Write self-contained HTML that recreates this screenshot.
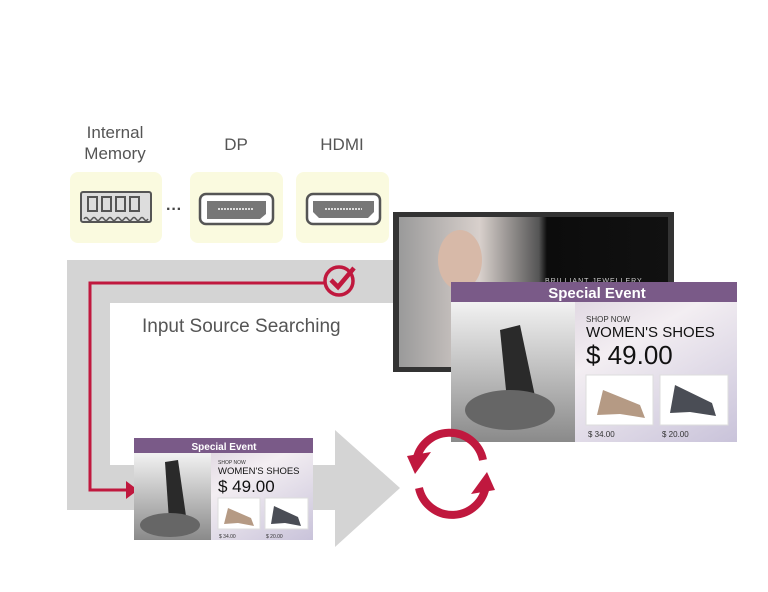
<!DOCTYPE html>
<html><head><meta charset="utf-8"><style>
body{margin:0;background:#fff;}
svg text{font-family:"Liberation Sans",sans-serif;}
</style></head><body>
<svg width="768" height="587" viewBox="0 0 768 587" xmlns="http://www.w3.org/2000/svg">
<defs>
<linearGradient id="sp" x1="0" y1="0" x2="1" y2="1"><stop offset="0" stop-color="#cbbfd0"/><stop offset="0.5" stop-color="#f3eef2"/><stop offset="1" stop-color="#c9c3da"/></linearGradient>
<linearGradient id="ph" x1="0" y1="0" x2="0" y2="1"><stop offset="0" stop-color="#f2f2f2"/><stop offset="1" stop-color="#8a8a8a"/></linearGradient>
<linearGradient id="mon" x1="0" y1="0" x2="1" y2="0"><stop offset="0" stop-color="#9a9a9a"/><stop offset="0.3" stop-color="#d8d0cc"/><stop offset="0.52" stop-color="#555"/><stop offset="0.55" stop-color="#0c0c0c"/><stop offset="1" stop-color="#111"/></linearGradient>
</defs>
<text x="115" y="138" font-size="17" fill="#555" text-anchor="middle">Internal</text>
<text x="115" y="159" font-size="17" fill="#555" text-anchor="middle">Memory</text>
<text x="236" y="150" font-size="17" fill="#555" text-anchor="middle">DP</text>
<text x="342" y="150" font-size="17" fill="#555" text-anchor="middle">HDMI</text>
<rect x="70" y="172" width="92" height="71" rx="8" fill="#fafadf"/>
<rect x="190" y="172" width="93" height="71" rx="8" fill="#fafadf"/>
<rect x="296" y="172" width="93" height="71" rx="8" fill="#fafadf"/>
<rect x="81" y="192" width="70" height="30" rx="2" fill="#ddd" stroke="#555" stroke-width="2"/>
<path d="M84 219 q2 -3 4 0 t4 0 t4 0 t4 0 t4 0 t4 0 t4 0 t4 0 t4 0 t4 0 t4 0 t4 0 t4 0 t4 0 t4 0 t4 0" fill="none" stroke="#555" stroke-width="1.5"/>
<g fill="none" stroke="#555" stroke-width="2"><rect x="88" y="197" width="9" height="14"/><rect x="102" y="197" width="9" height="14"/><rect x="116" y="197" width="9" height="14"/><rect x="130" y="197" width="9" height="14"/></g>
<text x="174" y="214" font-size="16" fill="#444" text-anchor="middle" font-weight="bold">···</text>
<rect x="200" y="194" width="73" height="30" rx="6" fill="#fff" stroke="#555" stroke-width="2.5"/>
<path d="M207 201 H266 V214 L260 219 H207 Z" fill="#777"/>
<line x1="218" y1="209" x2="254" y2="209" stroke="#fff" stroke-width="1.5" stroke-dasharray="2 1"/>
<rect x="307" y="194" width="73" height="30" rx="6" fill="#fff" stroke="#555" stroke-width="2.5"/>
<path d="M313 201 H374 V212 L368 218 H319 L313 212 Z" fill="#777"/>
<line x1="325" y1="209" x2="362" y2="209" stroke="#fff" stroke-width="1.5" stroke-dasharray="2 1"/>
<!-- gray band -->
<path d="M67 260 H395 V303 H110 V465 H335 V430 L400 488 L335 547 V510 H67 Z" fill="#d4d4d4"/>
<text x="142" y="332" font-size="19" fill="#555">Input Source Searching</text>
<!-- red line -->
<path d="M325 283 H90 V490 H128" fill="none" stroke="#c0183e" stroke-width="3"/>
<path d="M126 481 L138 490 L126 499 Z" fill="#c0183e"/>
<circle cx="339" cy="281" r="14" fill="none" stroke="#c0183e" stroke-width="3.5"/>
<path d="M331 280 L338 287 L354 268" fill="none" stroke="#c0183e" stroke-width="4.5"/>
<!-- monitor -->
<rect x="393" y="212" width="281" height="160" fill="#333"/>
<rect x="399" y="217" width="269" height="150" fill="url(#mon)"/>
<ellipse cx="460" cy="260" rx="22" ry="30" fill="#d7b9a8"/>
<text x="545" y="283" font-size="7" fill="#ccc" letter-spacing="1">BRILLIANT JEWELLERY</text>
<!-- big card -->
<rect x="451" y="282" width="286" height="160" fill="url(#sp)"/>
<rect x="451" y="282" width="286" height="20" fill="#7a5a88"/>
<text x="597" y="298" font-size="15" font-weight="bold" fill="#fff" text-anchor="middle">Special Event</text>
<rect x="451" y="302" width="124" height="140" fill="url(#ph)"/>
<path d="M500 330 L520 325 L540 420 L510 430 Z" fill="#2a2a2a"/>
<ellipse cx="510" cy="410" rx="45" ry="20" fill="#666"/>
<text x="586" y="322" font-size="8" fill="#333">SHOP NOW</text>
<text x="586" y="337" font-size="15" fill="#111">WOMEN'S SHOES</text>
<text x="586" y="364" font-size="26" fill="#111">$ 49.00</text>
<rect x="586" y="375" width="67" height="50" fill="#fff" stroke="#ddd"/>
<rect x="660" y="375" width="68" height="50" fill="#fff" stroke="#ddd"/>
<path d="M597 415 L603 390 L640 405 L645 418 L620 414 Z" fill="#b59a84"/>
<path d="M670 413 L675 385 L712 403 L716 416 L690 412 Z" fill="#4a4d55"/>
<text x="588" y="437" font-size="8" fill="#333">$ 34.00</text>
<text x="662" y="437" font-size="8" fill="#333">$ 20.00</text>
<!-- small card -->
<rect x="134" y="438" width="179" height="102" fill="url(#sp)"/>
<rect x="134" y="438" width="179" height="15" fill="#7a5a88"/>
<text x="224" y="450" font-size="10" font-weight="bold" fill="#fff" text-anchor="middle">Special Event</text>
<rect x="134" y="453" width="77" height="87" fill="url(#ph)"/>
<path d="M165 462 L178 460 L188 530 L170 535 Z" fill="#2a2a2a"/>
<ellipse cx="170" cy="525" rx="30" ry="12" fill="#666"/>
<text x="218" y="464" font-size="5" fill="#333">SHOP NOW</text>
<text x="218" y="474" font-size="9.5" fill="#111">WOMEN'S SHOES</text>
<text x="218" y="492" font-size="17" fill="#111">$ 49.00</text>
<rect x="218" y="498" width="42" height="31" fill="#fff" stroke="#ddd"/>
<rect x="265" y="498" width="43" height="31" fill="#fff" stroke="#ddd"/>
<path d="M224 524 L228 508 L251 518 L254 526 L238 523 Z" fill="#b59a84"/>
<path d="M271 524 L274 506 L298 517 L301 526 L285 523 Z" fill="#4a4d55"/>
<text x="219" y="538" font-size="5" fill="#333">$ 34.00</text>
<text x="266" y="538" font-size="5" fill="#333">$ 20.00</text>
<!-- refresh -->
<g fill="none" stroke="#c0183e" stroke-width="8">
<path d="M416 462 A34 34 0 0 1 483 460"/>
<path d="M486 485 A34 34 0 0 1 419 488"/>
</g>
<path d="M407 456 L431 452 L415 474 Z" fill="#c0183e"/>
<path d="M495 490 L471 494 L487 472 Z" fill="#c0183e"/>
</svg>
</body></html>
